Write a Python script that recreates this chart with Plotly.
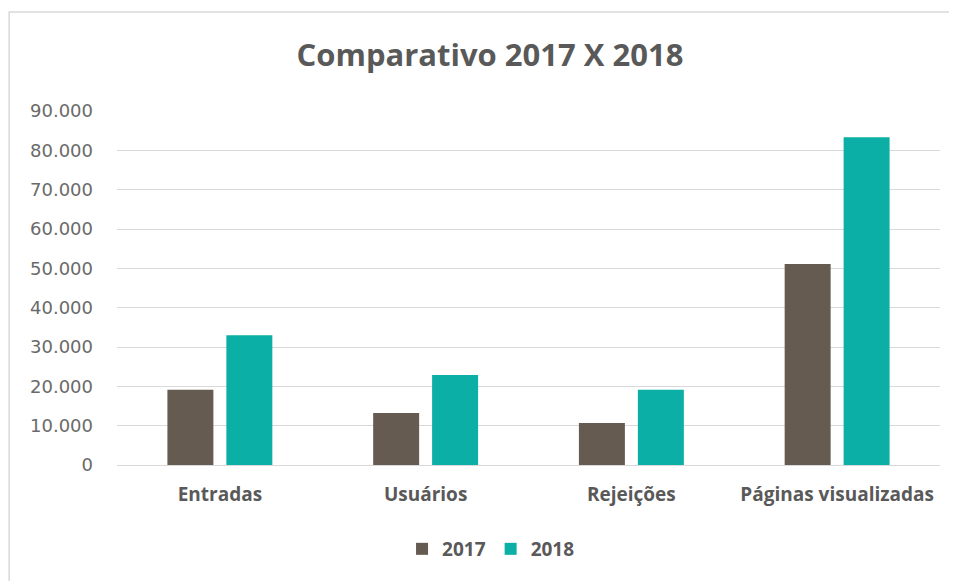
import plotly.graph_objects as go

categories = ["Entradas", "Usuários", "Rejeições", "Páginas visualizadas"]
values_2017 = [19100, 13200, 10700, 51100]
values_2018 = [33000, 22900, 19100, 83300]
series_names = ["2017", "2018"]
colors = ["#665b51", "#0bafa6"]
y_ticks = [0, 10000, 20000, 30000, 40000, 50000, 60000, 70000, 80000, 90000]

FONT = "Open Sans"
GRAY = "#595959"

W, H = 949, 573
L, R, T, B = 108.5, 16.5, 103, 116
PW, PH = W - L - R, H - T - B

fig = go.Figure()
for name, vals, col in zip(series_names, [values_2017, values_2018], colors):
    fig.add_trace(go.Bar(x=categories, y=vals, name=name, marker=dict(color=col, line=dict(width=0))))

fig.update_layout(
    width=W, height=H,
    paper_bgcolor="white", plot_bgcolor="white",
    separators=",.",
    barmode="group", bargap=0.427, bargroupgap=0.22,
    margin=dict(l=L, r=R, t=T, b=B, autoexpand=False),
    title=dict(text="Comparativo 2017 X 2018", x=482 / W, xref="container", xanchor="center",
               y=1 - 47 / H, yref="container", yanchor="middle",
               font=dict(family=FONT, size=31, color=GRAY, weight="bold")),
    font=dict(family=FONT, color=GRAY),
    showlegend=True,
    legend=dict(orientation="h", x=(483 - L) / PW, xanchor="center",
                y=(T + PH - 541) / PH, yanchor="middle",
                yref="paper", font=dict(family=FONT, size=19, color=GRAY, weight="bold"),
                itemwidth=30, traceorder="normal"),
    xaxis=dict(showgrid=False, showline=False, ticks="",
               tickfont=dict(family=FONT, size=19, color=GRAY, weight="bold"), ticklabelstandoff=16),
    yaxis=dict(range=[0, 90000], tickvals=y_ticks, tickformat=",d",
               showgrid=True, gridcolor="#d9d9d9", gridwidth=1,
               zeroline=True, zerolinecolor="#d9d9d9", zerolinewidth=1,
               showline=False, ticks="", ticklabelstandoff=23,
               tickfont=dict(family="DejaVu Sans", size=18, color="#6a6a6a")),
    shapes=[dict(type="rect", xref="paper", yref="paper",
                 x0=(0.5 - L) / PW, x1=(W + 40 - L) / PW,
                 y0=(T + PH - (H + 40)) / PH, y1=(T + PH - 4) / PH,
                 line=dict(color="#d9d9d9", width=1.5), fillcolor="rgba(0,0,0,0)", layer="below")],
)

fig.write_html("out.html")
